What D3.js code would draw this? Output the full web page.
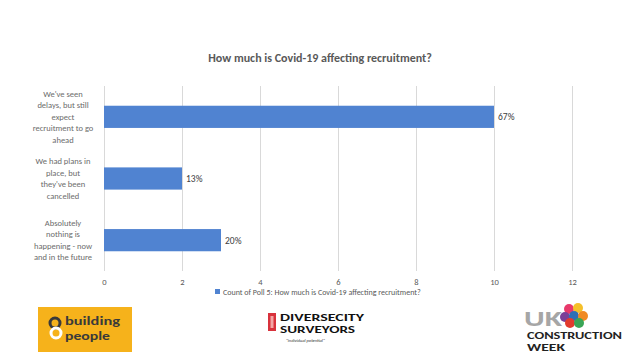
<!DOCTYPE html>
<html>
<head>
<meta charset="utf-8">
<script src="https://cdn.jsdelivr.net/npm/d3@7"></script>
<style>
  body { margin: 0; background: #fff; }
  text { font-family: Carlito, Calibri, "Open Sans", sans-serif; }
  .grid line { stroke: #d9d9d9; }
  .grid path { display: none; }
  .x-axis path, .x-axis line { display: none; }
  .x-axis text { fill: #595959; font-size: 8.5px; }
</style>
</head>
<body>
<div id="chart"></div>
<script>
// Data
const categories = [
  "We've seen delays, but still expect recruitment to go ahead",
  "We had plans in place, but they've been cancelled",
  "Absolutely nothing is happening - now and in the future"
];
const categoryLines = [
  ["We've seen", "delays, but still", "expect", "recruitment to go", "ahead"],
  ["We had plans in", "place, but", "they've been", "cancelled"],
  ["Absolutely", "nothing is", "happening - now", "and in the future"]
];
const counts = [10, 2, 3];
const percentLabels = ["67%", "13%", "20%"];
const xTicks = [0, 2, 4, 6, 8, 10, 12];
const title = "How much is Covid-19 affecting recruitment?";
const legendLabel = "Count of Poll 5: How much is Covid-19 affecting recruitment?";

const W = 640, H = 360;
const margin = { top: 86, right: 68, bottom: 89, left: 104 };
const width = W - margin.left - margin.right;
const height = H - margin.top - margin.bottom;

const root = d3.select('#chart').append('svg').attr('width', W).attr('height', H);

// Title
root.append('text')
  .attr('x', 320).attr('y', 62)
  .attr('text-anchor', 'middle')
  .attr('font-size', 12).attr('font-weight', 'bold')
  .attr('fill', '#595959')
  .text(title);

const svg = root.append('g').attr('transform', `translate(${margin.left},${margin.top})`);

const xScale = d3.scaleLinear().domain([0, 12]).range([0, width]);
const yScale = d3.scaleBand().domain(categories).range([0, height]).paddingInner(0.64).paddingOuter(0.32);

// Gridlines
svg.append('g')
  .attr('class', 'grid')
  .attr('transform', `translate(0,${height})`)
  .call(d3.axisBottom(xScale).tickValues(xTicks).tickSize(-height).tickFormat(''));

// X axis labels
svg.append('g')
  .attr('class', 'x-axis')
  .attr('transform', `translate(0,${height})`)
  .call(d3.axisBottom(xScale).tickValues(xTicks).tickSize(0).tickPadding(8));

// Bars
svg.selectAll('.bar')
  .data(categories)
  .enter()
  .append('rect')
  .attr('class', 'bar')
  .attr('x', xScale(0))
  .attr('y', (d) => yScale(d))
  .attr('width', (d, i) => xScale(counts[i]) - xScale(0))
  .attr('height', yScale.bandwidth())
  .attr('fill', '#5083d1');

// Data labels
svg.selectAll('.val')
  .data(categories)
  .enter()
  .append('text')
  .attr('x', (d, i) => xScale(counts[i]) + 4)
  .attr('y', (d) => yScale(d) + yScale.bandwidth() / 2 + 3.5)
  .attr('font-size', 9.5)
  .attr('fill', '#404040')
  .text((d, i) => percentLabels[i]);

// Category labels (wrapped)
categories.forEach((c, i) => {
  const lines = categoryLines[i];
  const lh = 11.5;
  const cy = yScale(c) + yScale.bandwidth() / 2;
  const t = svg.append('text')
    .attr('text-anchor', 'middle')
    .attr('font-size', 8.5)
    .attr('fill', '#6b6b6b');
  lines.forEach((ln, j) => {
    t.append('tspan')
      .attr('x', -41)
      .attr('y', cy - ((lines.length - 1) * lh) / 2 + j * lh + 3)
      .text(ln);
  });
});

// Legend
const lg = root.append('g').attr('transform', 'translate(215,295)');
lg.append('rect').attr('x', 0).attr('y', -6).attr('width', 5).attr('height', 5).attr('fill', '#5083d1');
lg.append('text').attr('x', 8).attr('y', 0).attr('font-size', 8).attr('fill', '#595959').text(legendLabel);

// Logos (drawn approximations)
// building people
const bp = root.append('g');
bp.append('rect').attr('x', 38).attr('y', 307).attr('width', 94).attr('height', 45).attr('fill', '#f6b21b');
bp.append('circle').attr('cx', 55).attr('cy', 323).attr('r', 5).attr('fill', 'none').attr('stroke', '#3a3a3a').attr('stroke-width', 3);
bp.append('circle').attr('cx', 56).attr('cy', 333).attr('r', 5).attr('fill', 'none').attr('stroke', '#fff').attr('stroke-width', 3);
bp.append('text').attr('x', 65).attr('y', 325).attr('font-size', 11.5).attr('font-weight', 'bold').attr('fill', '#3a3a3a').attr('font-family', 'Roboto, sans-serif').attr('textLength', 55).attr('lengthAdjust', 'spacingAndGlyphs').text('building');
bp.append('text').attr('x', 65).attr('y', 340).attr('font-size', 11.5).attr('font-weight', 'bold').attr('fill', '#3a3a3a').attr('font-family', 'Roboto, sans-serif').attr('textLength', 45).attr('lengthAdjust', 'spacingAndGlyphs').text('people');

// Diversecity surveyors
const ds = root.append('g');
ds.append('rect').attr('x', 268).attr('y', 313).attr('width', 8).attr('height', 18).attr('fill', '#d8323c');
ds.append('rect').attr('x', 270.5).attr('y', 316).attr('width', 3).attr('height', 12).attr('fill', '#f3a6a6');
ds.append('text').attr('x', 280).attr('y', 321).attr('font-size', 9.5).attr('font-weight', 'bold').attr('fill', '#111').attr('font-family', '"DejaVu Sans", sans-serif').attr('textLength', 84).attr('lengthAdjust', 'spacingAndGlyphs').text('DIVERSECITY');
ds.append('text').attr('x', 280).attr('y', 333).attr('font-size', 9.5).attr('font-weight', 'bold').attr('fill', '#111').attr('font-family', '"DejaVu Sans", sans-serif').attr('textLength', 75).attr('lengthAdjust', 'spacingAndGlyphs').text('SURVEYORS');
ds.append('text').attr('x', 286).attr('y', 342).attr('font-size', 4.5).attr('fill', '#333').attr('font-style', 'italic').text('"individual potential"');

// UK Construction Week
const uk = root.append('g');
uk.append('text').attr('x', 524).attr('y', 326).attr('font-size', 22).attr('font-weight', 'bold').attr('fill', '#a6a6a6').attr('font-family', '"DejaVu Serif", serif').attr('textLength', 38).attr('lengthAdjust', 'spacingAndGlyphs').text('UK');
const balls = [[569, 309, '#e8396b'], [578, 308, '#f5c02a'], [565, 317, '#7a3f98'], [574, 316, '#2f6fb6'], [583, 316, '#f08a24'], [570, 323, '#e23b2e'], [579, 323, '#3aa556']];
balls.forEach((b) => uk.append('circle').attr('cx', b[0]).attr('cy', b[1]).attr('r', 5).attr('fill', b[2]));
uk.append('text').attr('x', 527).attr('y', 339).attr('font-size', 9.5).attr('font-weight', 'bold').attr('fill', '#222').attr('font-family', '"DejaVu Serif", serif').attr('textLength', 95).attr('lengthAdjust', 'spacingAndGlyphs').text('CONSTRUCTION');
uk.append('text').attr('x', 527).attr('y', 351).attr('font-size', 9.5).attr('font-weight', 'bold').attr('fill', '#222').attr('font-family', '"DejaVu Serif", serif').attr('textLength', 38).attr('lengthAdjust', 'spacingAndGlyphs').text('WEEK');
</script>
</body>
</html>
